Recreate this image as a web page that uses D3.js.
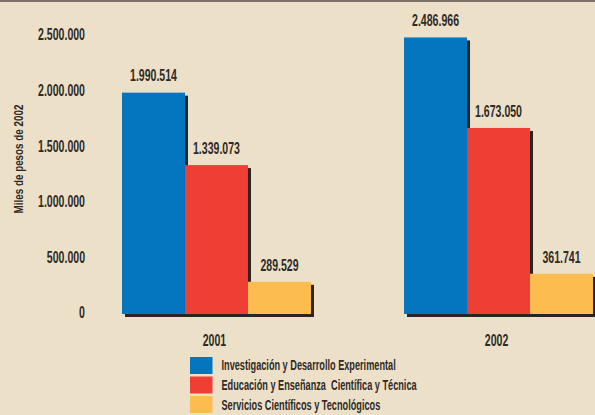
<!DOCTYPE html>
<html>
<head>
<meta charset="utf-8">
<script src="https://cdn.jsdelivr.net/npm/d3@7"></script>
<style>
  html, body { margin: 0; padding: 0; background: #ede0c8; }
  svg { display: block; }
  text { font-family: "Liberation Sans", Arial, sans-serif; fill: #2e2a27; white-space: pre; }
</style>
</head>
<body>
<svg id="chart" width="595" height="415"></svg>
<script>
const years = ["2001", "2002"];
const seriesNames = [
  "Investigación y Desarrollo Experimental",
  "Educación y Enseñanza  Científica y Técnica",
  "Servicios Científicos y Tecnológicos"
];
const investigacion = [1990514, 2486966];
const educacion = [1339073, 1673050];
const servicios = [289529, 361741];
const seriesColors = ["#0475bf", "#ef3e33", "#fdbc50"];
const yTicks = [0, 500000, 1000000, 1500000, 2000000, 2500000];
const yTitle = "Miles de pesos de 2002";

const seriesValues = [investigacion, educacion, servicios];

const locale = d3.formatLocale({decimal: ",", thousands: ".", grouping: [3], currency: ["$", ""]});
const fmt = locale.format(",d");

const svg = d3.select("#chart");
svg.append("rect").attr("x", 0).attr("y", 0).attr("width", 595).attr("height", 415).attr("fill", "#ede0c8");
svg.append("rect").attr("x", 0).attr("y", 0).attr("width", 595).attr("height", 2).attr("fill", "#7d736a");

const y = d3.scaleLinear().domain([0, 2500000]).range([314, 36]);
const x0 = d3.scaleBand().domain(years).range([122, 593]).paddingInner(0.33).paddingOuter(0);
const x1 = d3.scaleBand().domain(d3.range(seriesNames.length)).range([0, x0.bandwidth()]).padding(0);

function ntext(g, x, y, str, size, anchor, sx, rot) {
  return g.append("text")
    .attr("transform", `translate(${x},${y})${rot ? ` rotate(${rot})` : ""} scale(${sx},1)`)
    .attr("text-anchor", anchor)
    .attr("dominant-baseline", "central")
    .attr("font-size", size)
    .attr("font-weight", "bold")
    .text(str);
}

// Y tick labels
const yAxisG = svg.append("g");
yTicks.forEach(t => ntext(yAxisG, 85, y(t) - 1, fmt(t), 16, "end", 0.66));

// Y title
ntext(svg, 18, 159, yTitle, 13.5, "middle", 0.73, -90);

// Data rows
const rows = [];
years.forEach((yr, i) => seriesValues.forEach((vals, s) => rows.push({year: yr, s, v: vals[i]})));

const barsG = svg.append("g");
// shadows
barsG.selectAll("rect.shadow").data(rows).join("rect")
  .attr("class", "shadow")
  .attr("x", d => x0(d.year) + x1(d.s) + 3)
  .attr("y", d => y(d.v) + 3)
  .attr("width", x1.bandwidth())
  .attr("height", d => y(0) - y(d.v))
  .attr("fill", "#2a2522");
// bars
barsG.selectAll("rect.bar").data(rows).join("rect")
  .attr("class", "bar")
  .attr("x", d => x0(d.year) + x1(d.s))
  .attr("y", d => y(d.v))
  .attr("width", x1.bandwidth())
  .attr("height", d => y(0) - y(d.v))
  .attr("fill", d => seriesColors[d.s]);

// value labels
const labG = svg.append("g");
rows.forEach(d => ntext(labG, x0(d.year) + x1(d.s) + x1.bandwidth() / 2, y(d.v) - 16.5, fmt(d.v), 16, "middle", 0.66));

// x labels
const xG = svg.append("g");
years.forEach(yr => ntext(xG, x0(yr) + x0.bandwidth() / 2 - 2, 341, yr, 16, "middle", 0.66));

// legend
const legG = svg.append("g");
seriesNames.forEach((name, i) => {
  legG.append("rect")
    .attr("x", 190).attr("y", 357 + i * 19.5)
    .attr("width", 22.5).attr("height", 17)
    .attr("fill", seriesColors[i]);
  ntext(legG, 221.5, 365 + i * 20, name, 14, "start", 0.655);
});
</script>
</body>
</html>
